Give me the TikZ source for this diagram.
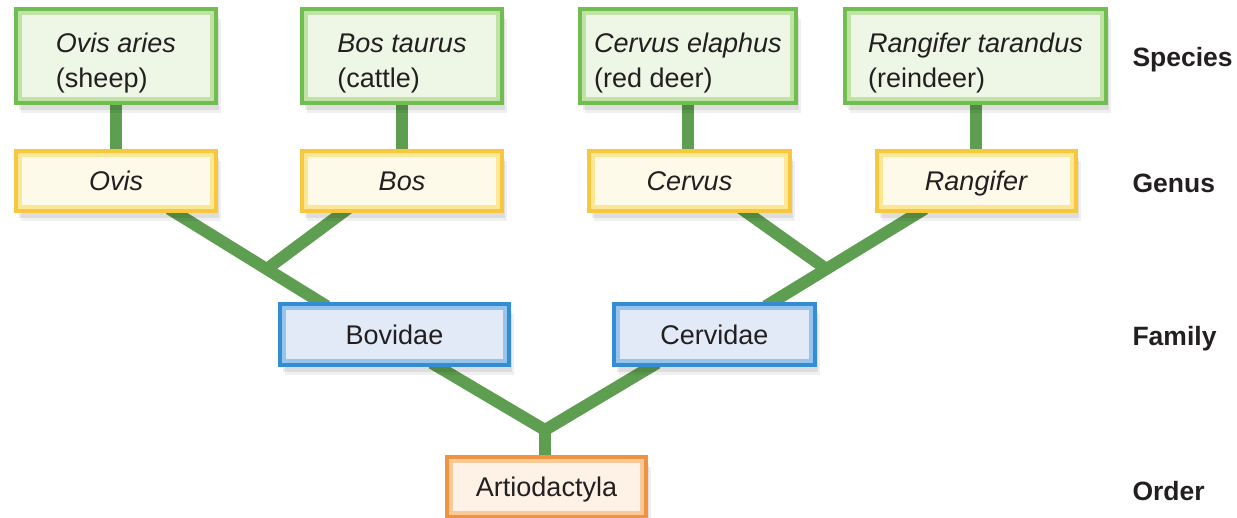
\documentclass[tikz,border=0pt]{standalone}
\usepackage{fontspec}
\setmainfont{Liberation Sans}
\usetikzlibrary{calc,shadows}
\pgfdeclarelayer{bg}
\pgfsetlayers{bg,main}
\definecolor{lineG}{RGB}{94,158,80}
\definecolor{txt}{RGB}{35,31,32}
\definecolor{spB}{RGB}{112,190,82}
\definecolor{spM}{RGB}{192,226,164}
\definecolor{spF}{RGB}{238,246,230}
\definecolor{gnB}{RGB}{247,200,62}
\definecolor{gnM}{RGB}{252,230,152}
\definecolor{gnF}{RGB}{254,250,234}
\definecolor{fmB}{RGB}{52,140,210}
\definecolor{fmM}{RGB}{150,196,236}
\definecolor{fmF}{RGB}{226,234,248}
\definecolor{orB}{RGB}{240,146,62}
\definecolor{orM}{RGB}{249,202,152}
\definecolor{orF}{RGB}{254,242,230}
\newcommand{\topstrut}{\rule{0pt}{34pt}}
\tikzset{
  box/.style={rectangle, line width=4pt, inner sep=0pt, align=center, text=txt,
    font=\fontsize{27}{35}\selectfont,
    drop shadow={shadow xshift=3pt, shadow yshift=-7pt, opacity=.08, fill=black},
    drop shadow={shadow xshift=5pt, shadow yshift=-10pt, opacity=.06, fill=black},
    path picture={\draw[line width=12pt, #1] (path picture bounding box.south west) rectangle (path picture bounding box.north east);}},
  single/.style={text height=20pt, text depth=1pt},
  species/.style={box=spM, draw=spB, fill=spF, minimum height=94pt, align=left},
  genus/.style={box=gnM, draw=gnB, fill=gnF, single, minimum height=60pt, font=\fontsize{27}{35}\selectfont\itshape},
  family/.style={box=fmM, draw=fmB, fill=fmF, single, minimum height=61pt},
  order/.style={box=orM, draw=orB, fill=orF, single, minimum height=60pt},
  rank/.style={anchor=west, text=txt, font=\fontsize{26.5}{30}\selectfont\bfseries, text height=19pt, text depth=0pt},
  branch/.style={draw=lineG, line width=12pt, line join=round},
}
\begin{document}
\begin{tikzpicture}[x=1pt,y=-1pt]
\useasboundingbox (0,0) rectangle (1237,517);
% species
\node[species, minimum width=200pt] (sp1) at (116,56) {\topstrut\itshape Ovis aries\\(sheep)};
\node[species, minimum width=200pt] (sp2) at (402,56) {\topstrut\itshape Bos taurus\\(cattle)};
\node[species, minimum width=216pt] (sp3) at (688,56) {\topstrut\itshape Cervus elaphus\\(red deer)};
\node[species, minimum width=261pt] (sp4) at (975.5,56) {\topstrut\itshape Rangifer tarandus\\(reindeer)};
% genus
\node[genus, minimum width=200pt] (g1) at (116,181) {Ovis};
\node[genus, minimum width=200pt] (g2) at (402,181) {Bos};
\node[genus, minimum width=201pt] (g3) at (689.5,181) {Cervus};
\node[genus, minimum width=199pt] (g4) at (976,181) {Rangifer};
% family
\node[family, minimum width=229pt] (f1) at (394.5,334.5) {Bovidae};
\node[family, minimum width=201pt] (f2) at (714.5,334.5) {Cervidae};
% order
\node[order, minimum width=199pt] (o1) at (546.5,487) {Artiodactyla};
% rank labels
\node[rank] (lsp) at (1129,57) {Species};
\node[rank] (lgn) at (1129,183) {Genus};
\node[rank] (lfm) at (1129,336) {Family};
\node[rank] (lor) at (1129,491) {Order};
% connectors
\begin{pgfonlayer}{bg}
\foreach \i in {1,2,3,4}{
  \draw[branch, shorten <=-6pt, shorten >=-6pt] (sp\i.south) -- (sp\i.south |- g\i.north);
}
\coordinate (a1) at ($(g1.south)+(60,0)$);
\coordinate (b1) at ($(f1.north west)+(42,0)$);
\coordinate (j1) at ($(a1)!0.63!(b1)$);
\draw[branch, shorten <=-8pt, shorten >=-8pt] (a1) -- (b1);
\draw[branch, shorten <=-8pt] ($(g2.south)+(-60,0)$) -- (j1);
\coordinate (a2) at ($(g4.south)+(-58,0)$);
\coordinate (b2) at ($(f2.north)+(58,0)$);
\coordinate (j2) at ($(a2)!0.63!(b2)$);
\draw[branch, shorten <=-8pt, shorten >=-8pt] (a2) -- (b2);
\draw[branch, shorten <=-8pt] ($(g3.south)+(58,0)$) -- (j2);
\coordinate (j3) at ($(o1.north)+(-1.5,-25)$);
\draw[branch, shorten <=-8pt, shorten >=-8pt] ($(f1.south)+(44,0)$) -- (j3) -- ($(f2.south)+(-64,0)$);
\draw[branch, shorten >=-6pt] (j3) -- (o1.north -| j3);
\end{pgfonlayer}
\end{tikzpicture}
\end{document}
